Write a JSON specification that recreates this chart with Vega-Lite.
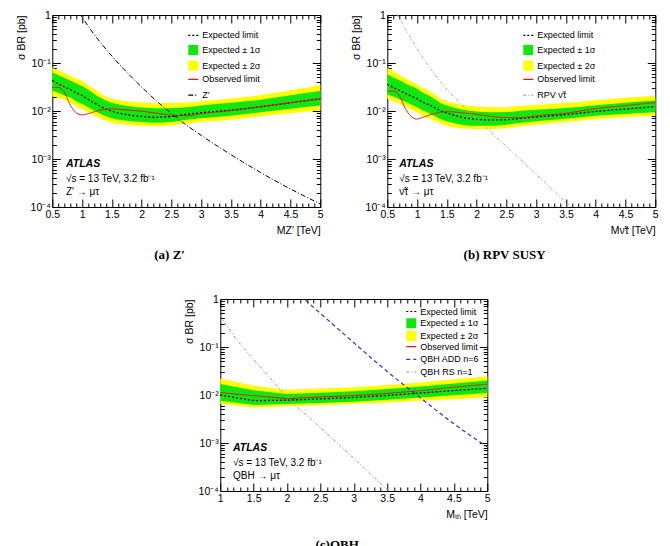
{
  "$schema": "https://vega.github.io/schema/vega-lite/v6.json",
  "background": "white",
  "padding": {"left": 15, "top": 9, "right": 5, "bottom": 0},
  "config": {
    "view": {"stroke": "black", "strokeWidth": 1},
    "axis": {"labelFont": "Liberation Sans", "titleFont": "Liberation Sans", "labelFontSize": 10.5, "titleFontSize": 10.5, "labelColor": "black", "titleColor": "black", "tickColor": "black", "grid": false, "titleFontWeight": "normal", "labelOverlap": false, "labelFlush": false, "domain": false},
    "legend": {"orient": "none", "direction": "vertical", "labelFont": "Liberation Sans", "labelFontSize": 9, "labelColor": "black", "symbolSize": 100, "padding": 0, "labelOffset": 3, "symbolStrokeWidth": 1.2, "symbolOpacity": 1}
  },
  "datasets": {
    "a_lim": [
      {"m": 0.5, "exp": 0.043, "obs": 0.031, "s1lo": 0.026, "s1hi": 0.064, "s2lo": 0.020, "s2hi": 0.080},
      {"m": 0.6, "exp": 0.037, "obs": 0.031, "s1lo": 0.024, "s1hi": 0.056, "s2lo": 0.019, "s2hi": 0.071},
      {"m": 0.7, "exp": 0.032, "obs": 0.025, "s1lo": 0.021, "s1hi": 0.049, "s2lo": 0.017, "s2hi": 0.063},
      {"m": 0.8, "exp": 0.028, "obs": 0.0135, "s1lo": 0.019, "s1hi": 0.043, "s2lo": 0.015, "s2hi": 0.055},
      {"m": 0.9, "exp": 0.024, "obs": 0.0092, "s1lo": 0.016, "s1hi": 0.038, "s2lo": 0.0125, "s2hi": 0.048},
      {"m": 1.0, "exp": 0.021, "obs": 0.0083, "s1lo": 0.014, "s1hi": 0.033, "s2lo": 0.011, "s2hi": 0.042},
      {"m": 1.1, "exp": 0.0175, "obs": 0.0088, "s1lo": 0.012, "s1hi": 0.028, "s2lo": 0.0095, "s2hi": 0.035},
      {"m": 1.2, "exp": 0.0148, "obs": 0.0096, "s1lo": 0.0102, "s1hi": 0.023, "s2lo": 0.0082, "s2hi": 0.029},
      {"m": 1.3, "exp": 0.0127, "obs": 0.0104, "s1lo": 0.0089, "s1hi": 0.019, "s2lo": 0.0071, "s2hi": 0.024},
      {"m": 1.4, "exp": 0.011, "obs": 0.0109, "s1lo": 0.0078, "s1hi": 0.0165, "s2lo": 0.0062, "s2hi": 0.020},
      {"m": 1.5, "exp": 0.0099, "obs": 0.011, "s1lo": 0.0071, "s1hi": 0.0148, "s2lo": 0.0057, "s2hi": 0.0182},
      {"m": 1.75, "exp": 0.0084, "obs": 0.0105, "s1lo": 0.0063, "s1hi": 0.0128, "s2lo": 0.0052, "s2hi": 0.016},
      {"m": 2.0, "exp": 0.0077, "obs": 0.0099, "s1lo": 0.0059, "s1hi": 0.0118, "s2lo": 0.0049, "s2hi": 0.015},
      {"m": 2.25, "exp": 0.0074, "obs": 0.009, "s1lo": 0.0057, "s1hi": 0.0114, "s2lo": 0.0048, "s2hi": 0.0145},
      {"m": 2.5, "exp": 0.0077, "obs": 0.0082, "s1lo": 0.0059, "s1hi": 0.0116, "s2lo": 0.005, "s2hi": 0.0146},
      {"m": 2.75, "exp": 0.0085, "obs": 0.008, "s1lo": 0.0066, "s1hi": 0.012, "s2lo": 0.0054, "s2hi": 0.015},
      {"m": 3.0, "exp": 0.0092, "obs": 0.0088, "s1lo": 0.0071, "s1hi": 0.013, "s2lo": 0.0059, "s2hi": 0.016},
      {"m": 3.5, "exp": 0.0104, "obs": 0.0102, "s1lo": 0.008, "s1hi": 0.0148, "s2lo": 0.0066, "s2hi": 0.0183},
      {"m": 4.0, "exp": 0.0122, "obs": 0.0124, "s1lo": 0.0094, "s1hi": 0.0172, "s2lo": 0.0078, "s2hi": 0.0215},
      {"m": 4.5, "exp": 0.0148, "obs": 0.015, "s1lo": 0.0112, "s1hi": 0.0212, "s2lo": 0.009, "s2hi": 0.027},
      {"m": 5.0, "exp": 0.0178, "obs": 0.0182, "s1lo": 0.013, "s1hi": 0.026, "s2lo": 0.0102, "s2hi": 0.035}
    ],
    "a_th": [
      {"m": 0.95, "xs": 1.12}, {"m": 1.0, "xs": 0.9}, {"m": 1.25, "xs": 0.331}, {"m": 1.5, "xs": 0.14},
      {"m": 1.75, "xs": 0.0646}, {"m": 2.0, "xs": 0.0316}, {"m": 2.25, "xs": 0.0162}, {"m": 2.5, "xs": 0.0089},
      {"m": 2.75, "xs": 0.0051}, {"m": 3.0, "xs": 0.0031}, {"m": 3.5, "xs": 0.00123}, {"m": 4.0, "xs": 0.00052},
      {"m": 4.5, "xs": 0.000237}, {"m": 5.0, "xs": 0.000116}
    ],
    "b_lim": [
      {"m": 0.5, "exp": 0.036, "obs": 0.026, "s1lo": 0.022, "s1hi": 0.058, "s2lo": 0.018, "s2hi": 0.080},
      {"m": 0.6, "exp": 0.031, "obs": 0.026, "s1lo": 0.020, "s1hi": 0.050, "s2lo": 0.016, "s2hi": 0.068},
      {"m": 0.7, "exp": 0.027, "obs": 0.021, "s1lo": 0.0175, "s1hi": 0.044, "s2lo": 0.0145, "s2hi": 0.057},
      {"m": 0.8, "exp": 0.0235, "obs": 0.0115, "s1lo": 0.0155, "s1hi": 0.038, "s2lo": 0.0125, "s2hi": 0.048},
      {"m": 0.9, "exp": 0.0205, "obs": 0.0077, "s1lo": 0.0136, "s1hi": 0.033, "s2lo": 0.0108, "s2hi": 0.041},
      {"m": 1.0, "exp": 0.018, "obs": 0.0068, "s1lo": 0.012, "s1hi": 0.029, "s2lo": 0.0094, "s2hi": 0.036},
      {"m": 1.1, "exp": 0.0152, "obs": 0.0074, "s1lo": 0.0102, "s1hi": 0.024, "s2lo": 0.008, "s2hi": 0.030},
      {"m": 1.2, "exp": 0.0135, "obs": 0.0082, "s1lo": 0.009, "s1hi": 0.021, "s2lo": 0.0071, "s2hi": 0.026},
      {"m": 1.3, "exp": 0.0117, "obs": 0.0089, "s1lo": 0.0078, "s1hi": 0.0175, "s2lo": 0.0062, "s2hi": 0.022},
      {"m": 1.4, "exp": 0.01, "obs": 0.0095, "s1lo": 0.0067, "s1hi": 0.0145, "s2lo": 0.0054, "s2hi": 0.0178},
      {"m": 1.5, "exp": 0.0091, "obs": 0.0097, "s1lo": 0.0061, "s1hi": 0.013, "s2lo": 0.0049, "s2hi": 0.016},
      {"m": 1.75, "exp": 0.0074, "obs": 0.0092, "s1lo": 0.0052, "s1hi": 0.0108, "s2lo": 0.0043, "s2hi": 0.0135},
      {"m": 2.0, "exp": 0.0067, "obs": 0.0085, "s1lo": 0.0049, "s1hi": 0.0098, "s2lo": 0.0042, "s2hi": 0.0124},
      {"m": 2.25, "exp": 0.0065, "obs": 0.0077, "s1lo": 0.0049, "s1hi": 0.0094, "s2lo": 0.0042, "s2hi": 0.012},
      {"m": 2.5, "exp": 0.0066, "obs": 0.0073, "s1lo": 0.0052, "s1hi": 0.0095, "s2lo": 0.0044, "s2hi": 0.012},
      {"m": 2.75, "exp": 0.007, "obs": 0.0073, "s1lo": 0.0057, "s1hi": 0.0101, "s2lo": 0.0048, "s2hi": 0.0128},
      {"m": 3.0, "exp": 0.0075, "obs": 0.0079, "s1lo": 0.0061, "s1hi": 0.0106, "s2lo": 0.0052, "s2hi": 0.0134},
      {"m": 3.5, "exp": 0.0084, "obs": 0.009, "s1lo": 0.0069, "s1hi": 0.0115, "s2lo": 0.0059, "s2hi": 0.0146},
      {"m": 4.0, "exp": 0.0098, "obs": 0.0112, "s1lo": 0.008, "s1hi": 0.0131, "s2lo": 0.0068, "s2hi": 0.0167},
      {"m": 4.5, "exp": 0.011, "obs": 0.013, "s1lo": 0.0087, "s1hi": 0.0148, "s2lo": 0.0074, "s2hi": 0.0188},
      {"m": 5.0, "exp": 0.0123, "obs": 0.015, "s1lo": 0.0094, "s1hi": 0.0165, "s2lo": 0.008, "s2hi": 0.021}
    ],
    "b_th": [
      {"m": 0.6, "xs": 1.445}, {"m": 0.67, "xs": 1.0}, {"m": 0.75, "xs": 0.676}, {"m": 1.0, "xs": 0.1995},
      {"m": 1.25, "xs": 0.0692}, {"m": 1.5, "xs": 0.0282}, {"m": 1.75, "xs": 0.0135}, {"m": 2.0, "xs": 0.0069},
      {"m": 2.5, "xs": 0.00182}, {"m": 3.0, "xs": 0.000479}, {"m": 3.5, "xs": 0.000126}, {"m": 3.7, "xs": 0.000072}
    ],
    "c_lim": [
      {"m": 1.0, "exp": 0.01, "obs": 0.0112, "s1lo": 0.0076, "s1hi": 0.017, "s2lo": 0.0065, "s2hi": 0.022},
      {"m": 1.5, "exp": 0.0076, "obs": 0.0097, "s1lo": 0.0062, "s1hi": 0.0126, "s2lo": 0.0055, "s2hi": 0.0156},
      {"m": 2.0, "exp": 0.0078, "obs": 0.0084, "s1lo": 0.0065, "s1hi": 0.0105, "s2lo": 0.0058, "s2hi": 0.0129},
      {"m": 2.5, "exp": 0.0083, "obs": 0.0091, "s1lo": 0.0068, "s1hi": 0.0112, "s2lo": 0.0061, "s2hi": 0.0137},
      {"m": 3.0, "exp": 0.0089, "obs": 0.0097, "s1lo": 0.0072, "s1hi": 0.012, "s2lo": 0.0065, "s2hi": 0.0145},
      {"m": 3.5, "exp": 0.0098, "obs": 0.0108, "s1lo": 0.008, "s1hi": 0.0133, "s2lo": 0.007, "s2hi": 0.0162},
      {"m": 4.0, "exp": 0.011, "obs": 0.0123, "s1lo": 0.0089, "s1hi": 0.015, "s2lo": 0.0076, "s2hi": 0.0183},
      {"m": 4.5, "exp": 0.0124, "obs": 0.0145, "s1lo": 0.0099, "s1hi": 0.0173, "s2lo": 0.0082, "s2hi": 0.0212},
      {"m": 5.0, "exp": 0.0138, "obs": 0.0168, "s1lo": 0.011, "s1hi": 0.02, "s2lo": 0.0089, "s2hi": 0.0245}
    ],
    "c_add": [
      {"m": 2.2, "xs": 1.17}, {"m": 2.5, "xs": 0.5}, {"m": 3.0, "xs": 0.123}, {"m": 3.5, "xs": 0.0309},
      {"m": 4.0, "xs": 0.0087}, {"m": 4.5, "xs": 0.00251}, {"m": 5.0, "xs": 0.00083}
    ],
    "c_rs": [
      {"m": 1.0, "xs": 0.447}, {"m": 1.25, "xs": 0.141}, {"m": 1.5, "xs": 0.055}, {"m": 1.75, "xs": 0.0224},
      {"m": 2.0, "xs": 0.0091}, {"m": 2.5, "xs": 0.00209}, {"m": 3.0, "xs": 0.000479}, {"m": 3.5, "xs": 0.000107},
      {"m": 3.6, "xs": 0.0000794}
    ]
  },
  "spacing": 30,
  "center": true,
  "resolve": {"scale": {"color": "independent", "fill": "independent", "stroke": "independent", "strokeDash": "independent"}, "legend": {"color": "independent", "fill": "independent", "stroke": "independent", "strokeDash": "independent"}},
  "vconcat": [
    {
      "spacing": 26,
      "resolve": {"scale": {"color": "independent", "fill": "independent", "stroke": "independent", "strokeDash": "independent"}, "legend": {"color": "independent", "fill": "independent", "stroke": "independent", "strokeDash": "independent"}},
      "hconcat": [
        {
          "width": 268, "height": 192,
          "title": {"text": "(a) Z′", "orient": "bottom", "font": "Liberation Serif", "fontSize": 13, "fontWeight": "bold", "frame": "bounds", "anchor": "middle", "offset": 13, "color": "black"},
          "resolve": {"axis": {"x": "independent", "y": "independent"}},
          "layer": [
            {
              "data": {"name": "a_lim"},
              "mark": {"type": "area", "opacity": 1, "interpolate": "monotone"},
              "encoding": {
                "x": {"field": "m", "type": "quantitative", "scale": {"domain": [0.5, 5], "nice": false, "zero": false},
                  "axis": {"orient": "bottom", "values": [0.5,0.6,0.7,0.8,0.9,1,1.1,1.2,1.3,1.4,1.5,1.6,1.7,1.8,1.9,2,2.1,2.2,2.3,2.4,2.5,2.6,2.7,2.8,2.9,3,3.1,3.2,3.3,3.4,3.5,3.6,3.7,3.8,3.9,4,4.1,4.2,4.3,4.4,4.5,4.6,4.7,4.8,4.9,5],
                    "labelExpr": "abs(datum.value*2-round(datum.value*2)) < 0.000001 ? format(datum.value, '~g') : ''",
                    "tickSize": {"condition": {"test": "abs(datum.value*2-round(datum.value*2)) < 0.000001", "value": -8}, "value": -4},
                    "labelPadding": 10, "title": "MZ′ [TeV]", "titleAnchor": "end", "titlePadding": 2}},
                "y": {"field": "s2lo", "type": "quantitative", "scale": {"type": "log", "domain": [0.0001, 1], "nice": false},
                  "axis": {"orient": "left", "values": [0.0001,0.0002,0.0003,0.0004,0.0005,0.0006,0.0007,0.0008,0.0009,0.001,0.002,0.003,0.004,0.005,0.006,0.007,0.008,0.009,0.01,0.02,0.03,0.04,0.05,0.06,0.07,0.08,0.09,0.1,0.2,0.3,0.4,0.5,0.6,0.7,0.8,0.9,1],
                    "labelExpr": "abs(log(datum.value)/LN10 - round(log(datum.value)/LN10)) < 0.000001 ? ['1','10⁻¹','10⁻²','10⁻³','10⁻⁴'][-round(log(datum.value)/LN10)] : ''",
                    "tickSize": {"condition": {"test": "abs(log(datum.value)/LN10 - round(log(datum.value)/LN10)) < 0.000001", "value": -8}, "value": -4},
                    "labelPadding": 10, "title": "σ BR [pb]", "titleAnchor": "end", "titlePadding": 4}},
                "y2": {"field": "s2hi"},
                "fill": {"datum": "Expected ± 2σ",
                  "scale": {"domain": ["Expected ± 1σ", "Expected ± 2σ"], "range": ["#11e611", "#ffff00"]},
                  "legend": {"legendX": 135, "legendY": 29, "title": null, "symbolType": "square", "rowPadding": 4.7}}
              }
            },
            {
              "data": {"name": "a_lim"},
              "mark": {"type": "area", "opacity": 1, "interpolate": "monotone"},
              "encoding": {
                "x": {"field": "m", "type": "quantitative",
                  "axis": {"orient": "top", "values": [0.5,0.6,0.7,0.8,0.9,1,1.1,1.2,1.3,1.4,1.5,1.6,1.7,1.8,1.9,2,2.1,2.2,2.3,2.4,2.5,2.6,2.7,2.8,2.9,3,3.1,3.2,3.3,3.4,3.5,3.6,3.7,3.8,3.9,4,4.1,4.2,4.3,4.4,4.5,4.6,4.7,4.8,4.9,5], "labels": false, "title": null,
                    "tickSize": {"condition": {"test": "abs(datum.value*2-round(datum.value*2)) < 0.000001", "value": -8}, "value": -4}}},
                "y": {"field": "s1lo", "type": "quantitative",
                  "axis": {"orient": "right", "values": [0.0001,0.0002,0.0003,0.0004,0.0005,0.0006,0.0007,0.0008,0.0009,0.001,0.002,0.003,0.004,0.005,0.006,0.007,0.008,0.009,0.01,0.02,0.03,0.04,0.05,0.06,0.07,0.08,0.09,0.1,0.2,0.3,0.4,0.5,0.6,0.7,0.8,0.9,1], "labels": false, "title": null,
                    "tickSize": {"condition": {"test": "abs(log(datum.value)/LN10 - round(log(datum.value)/LN10)) < 0.000001", "value": -8}, "value": -4}}},
                "y2": {"field": "s1hi"},
                "fill": {"datum": "Expected ± 1σ"}
              }
            },
            {
              "data": {"name": "a_lim"},
              "mark": {"type": "line", "strokeDash": [2, 2], "strokeWidth": 1.3, "interpolate": "monotone"},
              "encoding": {"x": {"field": "m", "type": "quantitative", "axis": null}, "y": {"field": "exp", "type": "quantitative", "axis": null},
                "stroke": {"datum": "Expected limit", "scale": {"domain": ["Expected limit"], "range": ["#000000"]},
                  "legend": {"legendX": 135, "legendY": 14.3, "title": null, "symbolType": "stroke", "symbolDash": [2, 2], "rowPadding": 4.7}}}
            },
            {
              "data": {"name": "a_lim"},
              "mark": {"type": "line", "strokeWidth": 1, "interpolate": "monotone"},
              "encoding": {"x": {"field": "m", "type": "quantitative", "axis": null}, "y": {"field": "obs", "type": "quantitative", "axis": null},
                "color": {"datum": "Observed limit", "scale": {"domain": ["Observed limit", "Z′"], "range": ["#ee1111", "#000000"]},
                  "legend": {"legendX": 135, "legendY": 58.4, "title": null, "symbolType": "stroke", "rowPadding": 4.7}},
                "strokeDash": {"datum": "Observed limit", "scale": {"domain": ["Observed limit", "Z′"], "range": [[1, 0], [5, 2, 1, 2]]},
                  "legend": {"legendX": 135, "legendY": 58.4, "title": null, "symbolType": "stroke", "rowPadding": 4.7}}}
            },
            {
              "data": {"name": "a_th"},
              "mark": {"type": "line", "strokeWidth": 1, "clip": true, "interpolate": "monotone"},
              "encoding": {"x": {"field": "m", "type": "quantitative", "axis": null}, "y": {"field": "xs", "type": "quantitative", "axis": null}, "color": {"datum": "Z′"}, "strokeDash": {"datum": "Z′"}}
            },
            {
              "data": {"values": [{}]},
              "mark": {"type": "text", "text": "ATLAS", "font": "Liberation Sans", "fontSize": 10.5, "fontStyle": "italic", "fontWeight": "bold", "align": "left", "baseline": "middle", "color": "black"},
              "encoding": {"x": {"datum": 0.73, "type": "quantitative", "axis": null}, "y": {"datum": 0.00079, "type": "quantitative", "axis": null}}
            },
            {
              "data": {"values": [{}]},
              "mark": {"type": "text", "text": "√s = 13 TeV, 3.2 fb⁻¹", "font": "Liberation Sans", "fontSize": 10, "align": "left", "baseline": "middle", "color": "black"},
              "encoding": {"x": {"datum": 0.73, "type": "quantitative", "axis": null}, "y": {"datum": 0.00038, "type": "quantitative", "axis": null}}
            },
            {
              "data": {"values": [{}]},
              "mark": {"type": "text", "text": "Z′ → μτ", "font": "Liberation Sans", "fontSize": 10, "align": "left", "baseline": "middle", "color": "black"},
              "encoding": {"x": {"datum": 0.73, "type": "quantitative", "axis": null}, "y": {"datum": 0.000205, "type": "quantitative", "axis": null}}
            }
          ]
        },
        {
          "width": 268, "height": 192,
          "title": {"text": "(b) RPV SUSY", "orient": "bottom", "font": "Liberation Serif", "fontSize": 13, "fontWeight": "bold", "frame": "bounds", "anchor": "middle", "offset": 13, "color": "black"},
          "resolve": {"axis": {"x": "independent", "y": "independent"}},
          "layer": [
            {
              "data": {"name": "b_lim"},
              "mark": {"type": "area", "opacity": 1, "interpolate": "monotone"},
              "encoding": {
                "x": {"field": "m", "type": "quantitative", "scale": {"domain": [0.5, 5], "nice": false, "zero": false},
                  "axis": {"orient": "bottom", "values": [0.5,0.6,0.7,0.8,0.9,1,1.1,1.2,1.3,1.4,1.5,1.6,1.7,1.8,1.9,2,2.1,2.2,2.3,2.4,2.5,2.6,2.7,2.8,2.9,3,3.1,3.2,3.3,3.4,3.5,3.6,3.7,3.8,3.9,4,4.1,4.2,4.3,4.4,4.5,4.6,4.7,4.8,4.9,5],
                    "labelExpr": "abs(datum.value*2-round(datum.value*2)) < 0.000001 ? format(datum.value, '~g') : ''",
                    "tickSize": {"condition": {"test": "abs(datum.value*2-round(datum.value*2)) < 0.000001", "value": -8}, "value": -4},
                    "labelPadding": 10, "title": "Mν̃τ [TeV]", "titleAnchor": "end", "titlePadding": 2}},
                "y": {"field": "s2lo", "type": "quantitative", "scale": {"type": "log", "domain": [0.0001, 1], "nice": false},
                  "axis": {"orient": "left", "values": [0.0001,0.0002,0.0003,0.0004,0.0005,0.0006,0.0007,0.0008,0.0009,0.001,0.002,0.003,0.004,0.005,0.006,0.007,0.008,0.009,0.01,0.02,0.03,0.04,0.05,0.06,0.07,0.08,0.09,0.1,0.2,0.3,0.4,0.5,0.6,0.7,0.8,0.9,1],
                    "labelExpr": "abs(log(datum.value)/LN10 - round(log(datum.value)/LN10)) < 0.000001 ? ['1','10⁻¹','10⁻²','10⁻³','10⁻⁴'][-round(log(datum.value)/LN10)] : ''",
                    "tickSize": {"condition": {"test": "abs(log(datum.value)/LN10 - round(log(datum.value)/LN10)) < 0.000001", "value": -8}, "value": -4},
                    "labelPadding": 10, "title": "σ BR [pb]", "titleAnchor": "end", "titlePadding": 4}},
                "y2": {"field": "s2hi"},
                "fill": {"datum": "Expected ± 2σ",
                  "scale": {"domain": ["Expected ± 1σ", "Expected ± 2σ"], "range": ["#11e611", "#ffff00"]},
                  "legend": {"legendX": 135, "legendY": 29, "title": null, "symbolType": "square", "rowPadding": 4.7}}
              }
            },
            {
              "data": {"name": "b_lim"},
              "mark": {"type": "area", "opacity": 1, "interpolate": "monotone"},
              "encoding": {
                "x": {"field": "m", "type": "quantitative",
                  "axis": {"orient": "top", "values": [0.5,0.6,0.7,0.8,0.9,1,1.1,1.2,1.3,1.4,1.5,1.6,1.7,1.8,1.9,2,2.1,2.2,2.3,2.4,2.5,2.6,2.7,2.8,2.9,3,3.1,3.2,3.3,3.4,3.5,3.6,3.7,3.8,3.9,4,4.1,4.2,4.3,4.4,4.5,4.6,4.7,4.8,4.9,5], "labels": false, "title": null,
                    "tickSize": {"condition": {"test": "abs(datum.value*2-round(datum.value*2)) < 0.000001", "value": -8}, "value": -4}}},
                "y": {"field": "s1lo", "type": "quantitative",
                  "axis": {"orient": "right", "values": [0.0001,0.0002,0.0003,0.0004,0.0005,0.0006,0.0007,0.0008,0.0009,0.001,0.002,0.003,0.004,0.005,0.006,0.007,0.008,0.009,0.01,0.02,0.03,0.04,0.05,0.06,0.07,0.08,0.09,0.1,0.2,0.3,0.4,0.5,0.6,0.7,0.8,0.9,1], "labels": false, "title": null,
                    "tickSize": {"condition": {"test": "abs(log(datum.value)/LN10 - round(log(datum.value)/LN10)) < 0.000001", "value": -8}, "value": -4}}},
                "y2": {"field": "s1hi"},
                "fill": {"datum": "Expected ± 1σ"}
              }
            },
            {
              "data": {"name": "b_lim"},
              "mark": {"type": "line", "strokeDash": [2, 2], "strokeWidth": 1.3, "interpolate": "monotone"},
              "encoding": {"x": {"field": "m", "type": "quantitative", "axis": null}, "y": {"field": "exp", "type": "quantitative", "axis": null},
                "stroke": {"datum": "Expected limit", "scale": {"domain": ["Expected limit"], "range": ["#000000"]},
                  "legend": {"legendX": 135, "legendY": 14.3, "title": null, "symbolType": "stroke", "symbolDash": [2, 2], "rowPadding": 4.7}}}
            },
            {
              "data": {"name": "b_lim"},
              "mark": {"type": "line", "strokeWidth": 1, "interpolate": "monotone"},
              "encoding": {"x": {"field": "m", "type": "quantitative", "axis": null}, "y": {"field": "obs", "type": "quantitative", "axis": null},
                "color": {"datum": "Observed limit", "scale": {"domain": ["Observed limit", "RPV ν̃τ"], "range": ["#ee1111", "#aaaaaa"]},
                  "legend": {"legendX": 135, "legendY": 58.4, "title": null, "symbolType": "stroke", "rowPadding": 4.7}},
                "strokeDash": {"datum": "Observed limit", "scale": {"domain": ["Observed limit", "RPV ν̃τ"], "range": [[1, 0], [3, 2, 1, 2]]},
                  "legend": {"legendX": 135, "legendY": 58.4, "title": null, "symbolType": "stroke", "rowPadding": 4.7}}}
            },
            {
              "data": {"name": "b_th"},
              "mark": {"type": "line", "strokeWidth": 1, "clip": true, "interpolate": "monotone"},
              "encoding": {"x": {"field": "m", "type": "quantitative", "axis": null}, "y": {"field": "xs", "type": "quantitative", "axis": null}, "color": {"datum": "RPV ν̃τ"}, "strokeDash": {"datum": "RPV ν̃τ"}}
            },
            {
              "data": {"values": [{}]},
              "mark": {"type": "text", "text": "ATLAS", "font": "Liberation Sans", "fontSize": 10.5, "fontStyle": "italic", "fontWeight": "bold", "align": "left", "baseline": "middle", "color": "black"},
              "encoding": {"x": {"datum": 0.7, "type": "quantitative", "axis": null}, "y": {"datum": 0.00079, "type": "quantitative", "axis": null}}
            },
            {
              "data": {"values": [{}]},
              "mark": {"type": "text", "text": "√s = 13 TeV, 3.2 fb⁻¹", "font": "Liberation Sans", "fontSize": 10, "align": "left", "baseline": "middle", "color": "black"},
              "encoding": {"x": {"datum": 0.7, "type": "quantitative", "axis": null}, "y": {"datum": 0.00038, "type": "quantitative", "axis": null}}
            },
            {
              "data": {"values": [{}]},
              "mark": {"type": "text", "text": "ν̃τ → μτ", "font": "Liberation Sans", "fontSize": 10, "align": "left", "baseline": "middle", "color": "black"},
              "encoding": {"x": {"datum": 0.7, "type": "quantitative", "axis": null}, "y": {"datum": 0.000205, "type": "quantitative", "axis": null}}
            }
          ]
        }
      ]
    },
    {
      "width": 267, "height": 192,
      "title": {"text": "(c)QBH", "orient": "bottom", "font": "Liberation Serif", "fontSize": 13, "fontWeight": "bold", "frame": "bounds", "anchor": "middle", "offset": 19, "color": "black"},
      "resolve": {"axis": {"x": "independent", "y": "independent"}},
      "layer": [
        {
          "data": {"name": "c_lim"},
          "mark": {"type": "area", "opacity": 1},
          "encoding": {
            "x": {"field": "m", "type": "quantitative", "scale": {"domain": [1, 5], "nice": false, "zero": false},
              "axis": {"orient": "bottom", "values": [1,1.1,1.2,1.3,1.4,1.5,1.6,1.7,1.8,1.9,2,2.1,2.2,2.3,2.4,2.5,2.6,2.7,2.8,2.9,3,3.1,3.2,3.3,3.4,3.5,3.6,3.7,3.8,3.9,4,4.1,4.2,4.3,4.4,4.5,4.6,4.7,4.8,4.9,5],
                "labelExpr": "abs(datum.value*2-round(datum.value*2)) < 0.000001 ? format(datum.value, '~g') : ''",
                "tickSize": {"condition": {"test": "abs(datum.value*2-round(datum.value*2)) < 0.000001", "value": -8}, "value": -4},
                "labelPadding": 10, "title": "Mₜₕ [TeV]", "titleAnchor": "end", "titlePadding": 2}},
            "y": {"field": "s2lo", "type": "quantitative", "scale": {"type": "log", "domain": [0.0001, 1], "nice": false},
              "axis": {"orient": "left", "values": [0.0001,0.0002,0.0003,0.0004,0.0005,0.0006,0.0007,0.0008,0.0009,0.001,0.002,0.003,0.004,0.005,0.006,0.007,0.008,0.009,0.01,0.02,0.03,0.04,0.05,0.06,0.07,0.08,0.09,0.1,0.2,0.3,0.4,0.5,0.6,0.7,0.8,0.9,1],
                "labelExpr": "abs(log(datum.value)/LN10 - round(log(datum.value)/LN10)) < 0.000001 ? ['1','10⁻¹','10⁻²','10⁻³','10⁻⁴'][-round(log(datum.value)/LN10)] : ''",
                "tickSize": {"condition": {"test": "abs(log(datum.value)/LN10 - round(log(datum.value)/LN10)) < 0.000001", "value": -8}, "value": -4},
                "labelPadding": 10, "title": "σ BR [pb]", "titleAnchor": "end", "titlePadding": 4}},
            "y2": {"field": "s2hi"},
            "fill": {"datum": "Expected ± 2σ",
              "scale": {"domain": ["Expected ± 1σ", "Expected ± 2σ"], "range": ["#11e611", "#ffff00"]},
              "legend": {"legendX": 185, "legendY": 18.2, "title": null, "symbolType": "square", "rowPadding": 1.7}}
          }
        },
        {
          "data": {"name": "c_lim"},
          "mark": {"type": "area", "opacity": 1},
          "encoding": {
            "x": {"field": "m", "type": "quantitative",
              "axis": {"orient": "top", "values": [1,1.1,1.2,1.3,1.4,1.5,1.6,1.7,1.8,1.9,2,2.1,2.2,2.3,2.4,2.5,2.6,2.7,2.8,2.9,3,3.1,3.2,3.3,3.4,3.5,3.6,3.7,3.8,3.9,4,4.1,4.2,4.3,4.4,4.5,4.6,4.7,4.8,4.9,5], "labels": false, "title": null,
                "tickSize": {"condition": {"test": "abs(datum.value*2-round(datum.value*2)) < 0.000001", "value": -8}, "value": -4}}},
            "y": {"field": "s1lo", "type": "quantitative",
              "axis": {"orient": "right", "values": [0.0001,0.0002,0.0003,0.0004,0.0005,0.0006,0.0007,0.0008,0.0009,0.001,0.002,0.003,0.004,0.005,0.006,0.007,0.008,0.009,0.01,0.02,0.03,0.04,0.05,0.06,0.07,0.08,0.09,0.1,0.2,0.3,0.4,0.5,0.6,0.7,0.8,0.9,1], "labels": false, "title": null,
                "tickSize": {"condition": {"test": "abs(log(datum.value)/LN10 - round(log(datum.value)/LN10)) < 0.000001", "value": -8}, "value": -4}}},
            "y2": {"field": "s1hi"},
            "fill": {"datum": "Expected ± 1σ"}
          }
        },
        {
          "data": {"name": "c_lim"},
          "mark": {"type": "line", "strokeDash": [2, 2], "strokeWidth": 1.3},
          "encoding": {"x": {"field": "m", "type": "quantitative", "axis": null}, "y": {"field": "exp", "type": "quantitative", "axis": null},
            "stroke": {"datum": "Expected limit", "scale": {"domain": ["Expected limit"], "range": ["#000000"]},
              "legend": {"legendX": 185, "legendY": 6.5, "title": null, "symbolType": "stroke", "symbolDash": [2, 2], "rowPadding": 1.7}}}
        },
        {
          "data": {"name": "c_lim"},
          "mark": {"type": "line", "strokeWidth": 1},
          "encoding": {"x": {"field": "m", "type": "quantitative", "axis": null}, "y": {"field": "obs", "type": "quantitative", "axis": null},
            "color": {"datum": "Observed limit", "scale": {"domain": ["Observed limit", "QBH ADD n=6", "QBH RS n=1"], "range": ["#ee1111", "#3333cc", "#999999"]},
              "legend": {"legendX": 185, "legendY": 41.6, "title": null, "symbolType": "stroke", "rowPadding": 1.7}},
            "strokeDash": {"datum": "Observed limit", "scale": {"domain": ["Observed limit", "QBH ADD n=6", "QBH RS n=1"], "range": [[1, 0], [4, 3], [3, 2, 1, 2]]},
              "legend": {"legendX": 185, "legendY": 41.6, "title": null, "symbolType": "stroke", "rowPadding": 1.7}}}
        },
        {
          "data": {"name": "c_add"},
          "mark": {"type": "line", "strokeWidth": 1.2, "clip": true, "interpolate": "monotone"},
          "encoding": {"x": {"field": "m", "type": "quantitative", "axis": null}, "y": {"field": "xs", "type": "quantitative", "axis": null}, "color": {"datum": "QBH ADD n=6"}, "strokeDash": {"datum": "QBH ADD n=6"}}
        },
        {
          "data": {"name": "c_rs"},
          "mark": {"type": "line", "strokeWidth": 1, "clip": true, "interpolate": "monotone"},
          "encoding": {"x": {"field": "m", "type": "quantitative", "axis": null}, "y": {"field": "xs", "type": "quantitative", "axis": null}, "color": {"datum": "QBH RS n=1"}, "strokeDash": {"datum": "QBH RS n=1"}}
        },
        {
          "data": {"values": [{}]},
          "mark": {"type": "text", "text": "ATLAS", "font": "Liberation Sans", "fontSize": 10.5, "fontStyle": "italic", "fontWeight": "bold", "align": "left", "baseline": "middle", "color": "black"},
          "encoding": {"x": {"datum": 1.19, "type": "quantitative", "axis": null}, "y": {"datum": 0.00079, "type": "quantitative", "axis": null}}
        },
        {
          "data": {"values": [{}]},
          "mark": {"type": "text", "text": "√s = 13 TeV, 3.2 fb⁻¹", "font": "Liberation Sans", "fontSize": 10, "align": "left", "baseline": "middle", "color": "black"},
          "encoding": {"x": {"datum": 1.19, "type": "quantitative", "axis": null}, "y": {"datum": 0.00038, "type": "quantitative", "axis": null}}
        },
        {
          "data": {"values": [{}]},
          "mark": {"type": "text", "text": "QBH → μτ", "font": "Liberation Sans", "fontSize": 10, "align": "left", "baseline": "middle", "color": "black"},
          "encoding": {"x": {"datum": 1.19, "type": "quantitative", "axis": null}, "y": {"datum": 0.000205, "type": "quantitative", "axis": null}}
        }
      ]
    }
  ]
}
